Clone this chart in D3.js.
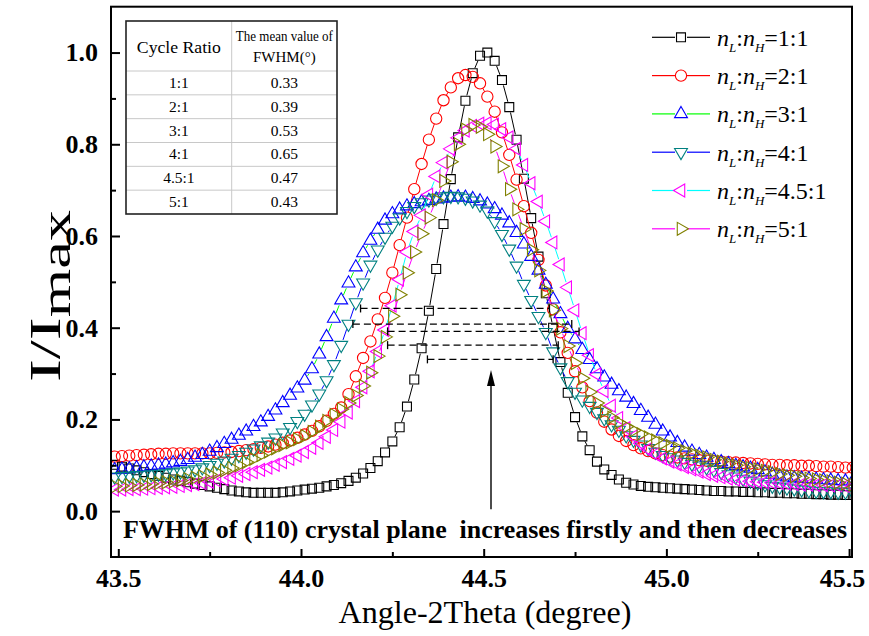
<!DOCTYPE html>
<html>
<head>
<meta charset="utf-8">
<script src="https://cdn.jsdelivr.net/npm/d3@7"></script>
<style>
body { margin: 0; background: #fff; }
svg { font-family: "Liberation Serif", "Times New Roman", serif; }
</style>
</head>
<body>
<div id="chart"></div>
<script>
// angle grid (degree)
const angles = [
  43.49,43.51,43.53,43.55,43.57,43.59,43.61,43.63,43.65,43.67,
  43.69,43.71,43.73,43.75,43.77,43.79,43.81,43.83,43.85,43.87,
  43.89,43.91,43.93,43.95,43.97,43.99,44.01,44.03,44.05,44.07,
  44.09,44.11,44.13,44.15,44.17,44.19,44.21,44.23,44.25,44.27,
  44.29,44.31,44.33,44.35,44.37,44.39,44.41,44.43,44.45,44.47,
  44.49,44.51,44.53,44.55,44.57,44.59,44.61,44.63,44.65,44.67,
  44.69,44.71,44.73,44.75,44.77,44.79,44.81,44.83,44.85,44.87,
  44.89,44.91,44.93,44.95,44.97,44.99,45.01,45.03,45.05,45.07,
  45.09,45.11,45.13,45.15,45.17,45.19,45.21,45.23,45.25,45.27,
  45.29,45.31,45.33,45.35,45.37,45.39,45.41,45.43,45.45,45.47,
  45.49,45.51];

const ratio_1_1 = [
  0.101,0.097,0.093,0.089,0.085,0.081,0.077,0.073,0.069,0.066,
  0.063,0.060,0.057,0.054,0.051,0.048,0.045,0.043,0.041,0.040,
  0.040,0.040,0.040,0.041,0.043,0.045,0.047,0.049,0.051,0.054,
  0.057,0.061,0.066,0.073,0.082,0.094,0.109,0.128,0.152,0.183,
  0.228,0.287,0.355,0.437,0.528,0.626,0.724,0.815,0.895,0.955,
  0.993,1.000,0.982,0.940,0.881,0.810,0.725,0.639,0.555,0.475,
  0.400,0.325,0.258,0.205,0.163,0.133,0.108,0.091,0.079,0.069,
  0.062,0.058,0.055,0.053,0.052,0.051,0.050,0.049,0.048,0.047,
  0.046,0.045,0.044,0.044,0.043,0.043,0.042,0.042,0.041,0.041,
  0.040,0.040,0.039,0.039,0.038,0.038,0.037,0.037,0.036,0.036,
  0.035,0.035];

const ratio_2_1 = [
  0.119,0.120,0.121,0.122,0.123,0.124,0.125,0.125,0.126,0.126,
  0.126,0.126,0.126,0.126,0.127,0.128,0.129,0.131,0.133,0.135,
  0.138,0.141,0.145,0.149,0.154,0.160,0.167,0.175,0.185,0.197,
  0.212,0.226,0.255,0.294,0.334,0.370,0.418,0.465,0.520,0.580,
  0.640,0.702,0.757,0.810,0.856,0.896,0.924,0.944,0.951,0.947,
  0.933,0.904,0.871,0.826,0.777,0.723,0.665,0.607,0.548,0.492,
  0.440,0.390,0.345,0.305,0.270,0.240,0.215,0.195,0.178,0.164,
  0.153,0.144,0.137,0.131,0.126,0.122,0.119,0.117,0.115,0.113,
  0.111,0.110,0.109,0.108,0.107,0.106,0.105,0.104,0.103,0.102,
  0.101,0.101,0.100,0.100,0.099,0.099,0.098,0.097,0.097,0.096,
  0.095,0.095];

const ratio_3_1 = [
  0.090,0.091,0.092,0.094,0.096,0.098,0.100,0.102,0.105,0.108,
  0.112,0.117,0.123,0.130,0.138,0.147,0.156,0.165,0.174,0.184,
  0.194,0.206,0.220,0.236,0.252,0.268,0.285,0.310,0.342,0.380,
  0.420,0.460,0.497,0.532,0.563,0.590,0.614,0.634,0.648,0.658,
  0.665,0.670,0.674,0.677,0.680,0.682,0.684,0.685,0.684,0.681,
  0.676,0.669,0.659,0.645,0.628,0.607,0.582,0.555,0.525,0.494,
  0.462,0.430,0.398,0.375,0.352,0.330,0.310,0.292,0.276,0.262,
  0.248,0.234,0.219,0.204,0.189,0.174,0.161,0.149,0.139,0.130,
  0.123,0.117,0.112,0.107,0.103,0.099,0.096,0.093,0.090,0.085,
  0.080,0.076,0.074,0.072,0.071,0.070,0.069,0.068,0.067,0.066,
  0.065,0.065];

const ratio_4_1 = [
  0.075,0.076,0.077,0.078,0.079,0.080,0.081,0.082,0.084,0.086,
  0.088,0.091,0.095,0.100,0.105,0.110,0.116,0.122,0.129,0.136,
  0.143,0.151,0.160,0.171,0.183,0.196,0.212,0.232,0.256,0.285,
  0.320,0.362,0.408,0.455,0.498,0.537,0.570,0.598,0.622,0.640,
  0.654,0.665,0.673,0.679,0.683,0.686,0.687,0.686,0.683,0.677,
  0.668,0.655,0.632,0.604,0.572,0.535,0.495,0.460,0.425,0.390,
  0.348,0.313,0.283,0.260,0.243,0.229,0.216,0.202,0.189,0.177,
  0.165,0.155,0.145,0.137,0.129,0.122,0.117,0.112,0.107,0.103,
  0.099,0.095,0.090,0.085,0.080,0.075,0.070,0.066,0.062,0.058,
  0.055,0.053,0.051,0.049,0.047,0.045,0.044,0.043,0.043,0.042,
  0.042,0.042];

const ratio_4_5_1 = [
  0.047,0.047,0.048,0.048,0.049,0.050,0.051,0.052,0.053,0.055,
  0.057,0.059,0.061,0.064,0.067,0.070,0.073,0.077,0.081,0.085,
  0.090,0.095,0.101,0.107,0.114,0.121,0.129,0.138,0.149,0.162,
  0.177,0.195,0.215,0.240,0.270,0.305,0.348,0.395,0.448,0.505,
  0.565,0.610,0.645,0.690,0.730,0.760,0.790,0.814,0.830,0.840,
  0.845,0.846,0.843,0.833,0.815,0.790,0.755,0.715,0.675,0.632,
  0.586,0.538,0.488,0.438,0.388,0.340,0.298,0.262,0.230,0.203,
  0.181,0.163,0.148,0.135,0.124,0.115,0.108,0.102,0.096,0.091,
  0.086,0.081,0.077,0.074,0.071,0.069,0.067,0.065,0.064,0.063,
  0.062,0.061,0.060,0.059,0.058,0.058,0.057,0.057,0.056,0.056,
  0.055,0.055];

const ratio_5_1 = [
  0.054,0.055,0.056,0.057,0.058,0.059,0.061,0.063,0.065,0.067,
  0.070,0.073,0.076,0.080,0.084,0.089,0.094,0.100,0.107,0.114,
  0.122,0.130,0.137,0.144,0.150,0.157,0.164,0.173,0.184,0.197,
  0.210,0.222,0.236,0.252,0.273,0.302,0.338,0.380,0.425,0.472,
  0.520,0.565,0.605,0.640,0.678,0.720,0.762,0.800,0.832,0.842,
  0.838,0.822,0.795,0.752,0.702,0.658,0.615,0.570,0.525,0.480,
  0.438,0.398,0.360,0.323,0.290,0.260,0.236,0.218,0.204,0.193,
  0.184,0.176,0.168,0.161,0.154,0.148,0.142,0.137,0.131,0.126,
  0.121,0.117,0.112,0.108,0.104,0.100,0.097,0.094,0.091,0.088,
  0.085,0.081,0.078,0.076,0.073,0.071,0.069,0.067,0.065,0.062,
  0.060,0.058];

const seriesRatios = ["1:1", "2:1", "3:1", "4:1", "4.5:1", "5:1"];
const seriesValues = [ratio_1_1, ratio_2_1, ratio_3_1, ratio_4_1, ratio_4_5_1, ratio_5_1];

// inset table
const cycleRatios = ["1:1", "2:1", "3:1", "4:1", "4.5:1", "5:1"];
const fwhmMeans = ["0.33", "0.39", "0.53", "0.65", "0.47", "0.43"];

const xTicks = [43.5, 44.0, 44.5, 45.0, 45.5];
const xMinorTicks = [43.75, 44.25, 44.75, 45.25];
const yTicks = [0.0, 0.2, 0.4, 0.6, 0.8, 1.0];
const yMinorTicks = [0.1, 0.3, 0.5, 0.7, 0.9];

// FWHM guide lines (level, left angle, right angle)
const fwhmLevels = [0.442, 0.408, 0.392, 0.362, 0.331];
const fwhmLeft = [44.163, 44.142, 44.237, 44.237, 44.346];
const fwhmRight = [44.68, 44.741, 44.761, 44.704, 44.69];
const arrowAngle = 44.52;
const arrowFrom = 0.004, arrowTo = 0.308;

// styles
const lineColors = ["#000000", "#ff0000", "#00ff00", "#0000ff", "#00ffff", "#ff00ff"];
const markerColors = ["#000000", "#ff0000", "#0000ff", "#008080", "#ff00ff", "#808000"];

class FwhmChart {
    constructor(container_id) {
        this.width = 869;
        this.height = 636;
        this.left = 111; this.right = 852; this.top = 6.7; this.bottom = 557;
        this.svg = d3.select("#" + container_id)
            .append("svg")
            .attr("width", this.width)
            .attr("height", this.height);
        this.x = d3.scaleLinear().domain([43.48, 45.508]).range([this.left, this.right]);
        this.y = d3.scaleLinear().domain([-0.1, 1.1]).range([this.bottom, this.top]);
        this.render();
    }

    marker(sel, i, color) {
        let rot = [0, 0, 0, 180, -90, 90][i];
        let type = [d3.symbolSquare, d3.symbolCircle, d3.symbolTriangle,
                    d3.symbolTriangle, d3.symbolTriangle, d3.symbolTriangle][i];
        let size = [80, 100, 72, 72, 72, 72][i];
        return sel.append("path")
            .attr("d", d3.symbol().type(type).size(size)())
            .attr("fill", "none")
            .attr("stroke", color)
            .attr("stroke-width", 1.1)
            .attr("transform", d => `translate(${d[0]},${d[1]}) rotate(${rot})`);
    }

    render() {
        let svg = this.svg, x = this.x, y = this.y;

        svg.append("clipPath").attr("id", "plotclip")
            .append("rect")
            .attr("x", this.left).attr("y", this.top)
            .attr("width", this.right - this.left).attr("height", this.bottom - this.top);

        let plot = svg.append("g").attr("clip-path", "url(#plotclip)");

        // series: line broken around each symbol, hollow symbols
        seriesValues.forEach((vals, i) => {
            let pts = angles.map((a, k) => [x(a), y(vals[k])]);
            let r = 5.5;
            let segs = [];
            for (let k = 1; k < pts.length; k++) {
                let dx = pts[k][0] - pts[k-1][0], dy = pts[k][1] - pts[k-1][1];
                let len = Math.hypot(dx, dy);
                if (len <= 2 * r) continue;
                let ux = dx / len, uy = dy / len;
                segs.push([pts[k-1][0] + ux*r, pts[k-1][1] + uy*r, pts[k][0] - ux*r, pts[k][1] - uy*r]);
            }
            let g = plot.append("g");
            g.selectAll("line").data(segs).join("line")
                .attr("x1", d => d[0]).attr("y1", d => d[1])
                .attr("x2", d => d[2]).attr("y2", d => d[3])
                .attr("stroke", lineColors[i]).attr("stroke-width", 1);
            let mg = g.selectAll("g.m").data(pts).join("g").attr("class", "m");
            this.marker(mg, i, markerColors[i]);
        });

        // FWHM guide lines
        let guides = svg.append("g");
        fwhmLevels.forEach((lv, i) => {
            let yy = y(lv), x1 = x(fwhmLeft[i]), x2 = x(fwhmRight[i]);
            guides.append("line")
                .attr("x1", x1).attr("x2", x2).attr("y1", yy).attr("y2", yy)
                .attr("stroke", "#000").attr("stroke-width", 1.3)
                .attr("stroke-dasharray", "7,4");
            [x1, x2].forEach(xx => guides.append("line")
                .attr("x1", xx).attr("x2", xx).attr("y1", yy - 4).attr("y2", yy + 4)
                .attr("stroke", "#000").attr("stroke-width", 1.3));
        });

        // arrow
        let ax = x(arrowAngle), ay0 = y(arrowFrom), ay1 = y(arrowTo);
        svg.append("line")
            .attr("x1", ax).attr("x2", ax).attr("y1", ay0).attr("y2", ay1 + 12)
            .attr("stroke", "#000").attr("stroke-width", 1.4);
        svg.append("path")
            .attr("d", `M${ax},${ay1} L${ax - 4},${ay1 + 16} L${ax + 4},${ay1 + 16} Z`)
            .attr("fill", "#000");

        // note
        svg.append("text")
            .attr("x", 123).attr("y", 538)
            .attr("font-size", 25).attr("font-weight", "bold")
            .attr("textLength", 724).attr("lengthAdjust", "spacingAndGlyphs")
            .style("white-space", "pre")
            .text("FWHM of (110) crystal plane  increases firstly and then decreases");

        // axes
        svg.append("g")
            .attr("transform", `translate(0,${this.bottom})`)
            .call(d3.axisBottom(x).tickValues(xTicks).tickSizeInner(-8).tickSizeOuter(0)
                .tickPadding(12).tickFormat(d3.format(".1f")))
            .selectAll(".tick text").filter(d => d === 45.5).attr("dx", -7);
        svg.append("g")
            .attr("transform", `translate(0,${this.bottom})`)
            .call(d3.axisBottom(x).tickValues(xMinorTicks).tickSizeInner(-5).tickSizeOuter(0)
                .tickFormat(""));
        svg.append("g")
            .attr("transform", `translate(${this.left},0)`)
            .call(d3.axisLeft(y).tickValues(yTicks).tickSizeInner(-9).tickSizeOuter(0)
                .tickPadding(13).tickFormat(d3.format(".1f")));
        svg.append("g")
            .attr("transform", `translate(${this.left},0)`)
            .call(d3.axisLeft(y).tickValues(yMinorTicks).tickSizeInner(-5).tickSizeOuter(0)
                .tickFormat(""));
        svg.selectAll(".domain").remove();
        svg.selectAll(".tick line").attr("stroke", "#000").attr("stroke-width", 2);
        svg.selectAll(".tick text")
            .attr("font-family", "Liberation Serif")
            .attr("font-size", 26).attr("font-weight", "bold").attr("fill", "#000");

        // frame
        svg.append("rect")
            .attr("x", this.left).attr("y", this.top)
            .attr("width", this.right - this.left).attr("height", this.bottom - this.top)
            .attr("fill", "none").attr("stroke", "#000").attr("stroke-width", 2);

        // axis titles
        svg.append("text")
            .attr("x", 485).attr("y", 623)
            .attr("text-anchor", "middle").attr("font-size", 31)
            .attr("textLength", 293).attr("lengthAdjust", "spacingAndGlyphs")
            .text("Angle-2Theta (degree)");
        let yt = svg.append("text")
            .attr("transform", "translate(60,296) rotate(-90)")
            .attr("text-anchor", "middle").attr("font-size", 44)
            .attr("textLength", 172).attr("lengthAdjust", "spacingAndGlyphs");
        yt.append("tspan").text("I/I");
        yt.append("tspan").attr("font-size", 40).attr("dy", 10).text("max");

        this.legend();
        this.table();
    }

    legend() {
        let svg = this.svg;
        seriesRatios.forEach((r, i) => {
            let yy = 37.3 + i * 38.3;
            let g = svg.append("g");
            g.append("line").attr("x1", 652).attr("x2", 675).attr("y1", yy).attr("y2", yy)
                .attr("stroke", lineColors[i]).attr("stroke-width", 1.2);
            g.append("line").attr("x1", 687).attr("x2", 710).attr("y1", yy).attr("y2", yy)
                .attr("stroke", lineColors[i]).attr("stroke-width", 1.2);
            this.marker(g.selectAll("g.m").data([[681, yy]]).join("g").attr("class", "m"), i, markerColors[i]);
            let t = g.append("text").attr("x", 717).attr("y", yy + 8.4).attr("font-size", 24);
            t.append("tspan").attr("font-style", "italic").text("n");
            t.append("tspan").attr("font-style", "italic").attr("font-size", 13).attr("dy", 6).text("L");
            t.append("tspan").attr("dy", -6).text(":");
            t.append("tspan").attr("font-style", "italic").text("n");
            t.append("tspan").attr("font-style", "italic").attr("font-size", 13).attr("dy", 6).text("H");
            t.append("tspan").attr("dy", -6).text("=" + r);
        });
    }

    table() {
        let svg = this.svg;
        let tx = 126, ty = 21, tw = 211, th = 193, col = 231.7, headH = 50;
        let rowH = (th - headH) / cycleRatios.length;
        let g = svg.append("g");
        g.append("rect").attr("x", tx).attr("y", ty).attr("width", tw).attr("height", th)
            .attr("fill", "#fff");
        g.append("line").attr("x1", col).attr("x2", col).attr("y1", ty).attr("y2", ty + th)
            .attr("stroke", "#c8c8c8").attr("stroke-width", 1);
        for (let k = 0; k < cycleRatios.length; k++) {
            let yy = ty + headH + k * rowH;
            g.append("line").attr("x1", tx).attr("x2", tx + tw).attr("y1", yy).attr("y2", yy)
                .attr("stroke", "#c8c8c8").attr("stroke-width", 1);
            g.append("text").attr("x", (tx + col) / 2).attr("y", yy + rowH / 2 + 5)
                .attr("text-anchor", "middle").attr("font-size", 15.5).text(cycleRatios[k]);
            g.append("text").attr("x", (col + tx + tw) / 2).attr("y", yy + rowH / 2 + 5)
                .attr("text-anchor", "middle").attr("font-size", 15.5).text(fwhmMeans[k]);
        }
        g.append("text").attr("x", (tx + col) / 2).attr("y", 52.5)
            .attr("text-anchor", "middle").attr("font-size", 16)
            .attr("textLength", 84).attr("lengthAdjust", "spacingAndGlyphs").text("Cycle Ratio");
        g.append("text").attr("x", (col + tx + tw) / 2).attr("y", 41)
            .attr("text-anchor", "middle").attr("font-size", 15)
            .attr("textLength", 97).attr("lengthAdjust", "spacingAndGlyphs").text("The mean value of");
        g.append("text").attr("x", (col + tx + tw) / 2).attr("y", 62)
            .attr("text-anchor", "middle").attr("font-size", 15).text("FWHM(\u00b0)");
        g.append("rect").attr("x", tx).attr("y", ty).attr("width", tw).attr("height", th)
            .attr("fill", "none").attr("stroke", "#222").attr("stroke-width", 1.6);
    }
}

new FwhmChart("chart");
</script>
</body>
</html>
